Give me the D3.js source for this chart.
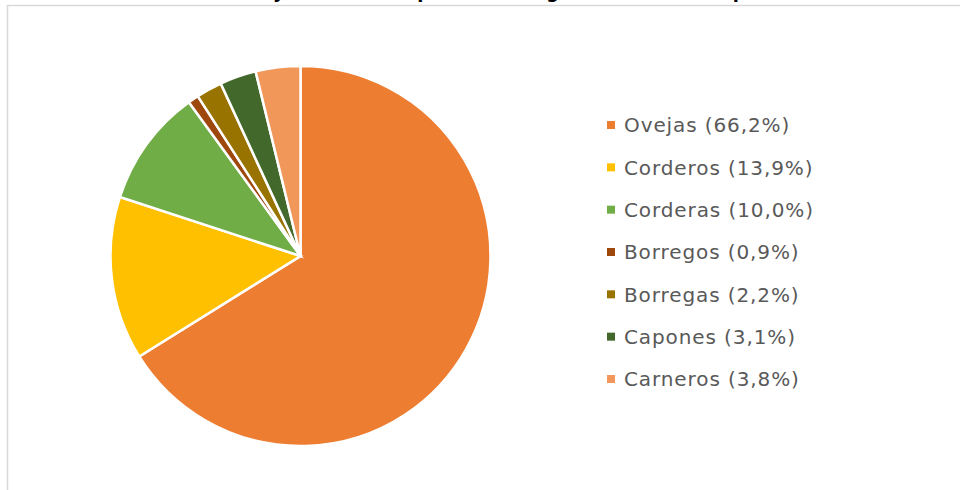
<!DOCTYPE html>
<html>
<head>
<meta charset="utf-8">
<script src="https://cdn.jsdelivr.net/npm/d3@7"></script>
<style>
  body { margin: 0; background: #fff; }
  svg { display: block; }
</style>
</head>
<body>
<svg id="chart" width="960" height="490"></svg>
<script>
const categories = ["Ovejas", "Corderos", "Corderas", "Borregos", "Borregas", "Capones", "Carneros"];
const values = [66.2, 13.9, 10.0, 0.9, 2.2, 3.1, 3.8];
const labels = ["Ovejas (66,2%)", "Corderos (13,9%)", "Corderas (10,0%)", "Borregos (0,9%)", "Borregas (2,2%)", "Capones (3,1%)", "Carneros (3,8%)"];
const colors = ["#ED7D31", "#FFC000", "#70AD47", "#9E480E", "#997300", "#43682B", "#F1975A"];
const title = "Censo ovino y distribución por clase de ganado en toda España";

const svg = d3.select("#chart");

// frame of the chart area (cut by the window on right/bottom)
svg.append("rect")
   .attr("x", 7.5).attr("y", 5.5)
   .attr("width", 1000).attr("height", 600)
   .attr("fill", "#fff")
   .attr("stroke", "#d9d9d9")
   .attr("stroke-width", 1.5);

// title, mostly above the visible area
const t = svg.append("text")
   .attr("x", 0).attr("y", -2)
   .style("font-family", "'DejaVu Sans', sans-serif")
   .style("font-weight", "bold")
   .style("font-size", "20px")
   .attr("fill", "#000")
   .text(title);
// line up the descenders with the reference
const node = t.node();
const iy = title.indexOf(" y ") + 1;
const ip = title.lastIndexOf("p");
const x0 = node.getStartPositionOfChar(iy).x;
const x1 = node.getStartPositionOfChar(ip).x;
const k = (733 - 273) / (x1 - x0);
t.style("font-size", (20 * k) + "px");
t.attr("x", 273 - node.getStartPositionOfChar(iy).x);

const cx = 300.5, cy = 256, r = 190;

const pie = d3.pie().sort(null).value(d => d);
const arc = d3.arc().innerRadius(0).outerRadius(r);
const color = d3.scaleOrdinal().domain(categories).range(colors);

svg.append("g")
   .attr("transform", `translate(${cx},${cy})`)
   .selectAll("path")
   .data(pie(values))
   .join("path")
   .attr("d", arc)
   .attr("fill", (d, i) => color(categories[i]))
   .attr("stroke", "#fff")
   .attr("stroke-width", 2.5)
   .attr("stroke-linejoin", "miter");

// legend
const ly = d3.scalePoint().domain(categories).range([125, 379]);

const leg = svg.append("g")
   .selectAll("g")
   .data(categories)
   .join("g")
   .attr("transform", d => `translate(0,${ly(d)})`);

leg.append("rect")
   .attr("x", 607).attr("y", -4)
   .attr("width", 8).attr("height", 8)
   .attr("fill", d => color(d));

leg.append("text")
   .attr("x", 624).attr("y", 0)
   .attr("dy", "0.36em")
   .style("font-family", "'DejaVu Sans', sans-serif")
   .style("font-size", "20px")
   .style("letter-spacing", "0.9px")
   .attr("fill", "#595959")
   .text((d, i) => labels[i]);
</script>
</body>
</html>
